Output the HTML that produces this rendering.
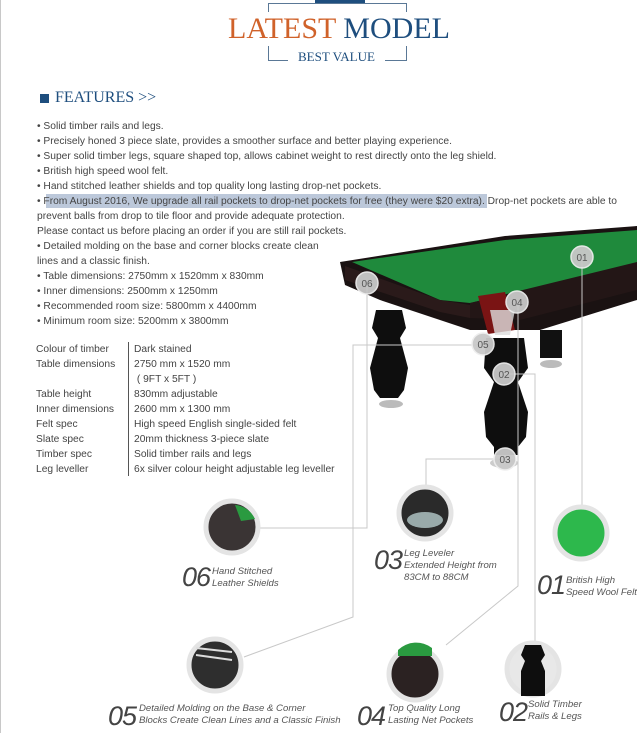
<!DOCTYPE html>
<html><head><meta charset="utf-8"><style>
*{margin:0;padding:0}
body{width:637px;height:733px;position:relative;background:#fff;overflow:hidden;font-family:"Liberation Sans",sans-serif;}
.a{position:absolute;white-space:nowrap}
.t{font-size:10.25px;color:#444;line-height:15px}
.serif{font-family:"Liberation Serif",serif}
.big{font-family:"Liberation Sans",sans-serif;font-style:italic;font-size:27px;color:#444;font-weight:300;letter-spacing:-1px}
.sm{font-style:italic;font-size:9.6px;color:#555;line-height:12px}
</style></head><body>
<div class="a" style="left:0;top:0;width:1px;height:733px;background:#c8c8c8"></div>
<!-- header box -->
<div class="a" style="left:268px;top:3px;width:137px;height:57px;border:1px solid #5a7896;border-bottom:none"></div>
<div class="a" style="left:268px;top:60px;width:139px;height:1px;background:#5a7896"></div>
<div class="a" style="left:315px;top:0;width:50px;height:3px;background:#1e4e7e"></div>
<div class="a serif" style="left:226px;top:12px;background:#fff;font-size:30px;line-height:34px;padding:0 2px"><span style="color:#d0622a">LATEST</span> <span style="color:#1e4e7e">MODEL</span></div>
<div class="a serif" style="left:288px;top:49px;background:#fff;font-size:13px;color:#1e4e7e;padding:0 10px;line-height:16px">BEST VALUE</div>
<!-- features -->
<div class="a" style="left:40px;top:94px;width:9px;height:9px;background:#1e4e7e"></div>
<div class="a serif" style="left:55px;top:89px;font-size:16px;color:#1e4e7e">FEATURES &gt;&gt;</div>
<div class="a" style="left:46px;top:194px;width:441px;height:14px;background:#bcc8da"></div>
<div class="a t" style="left:37px;top:119px">
• Solid timber rails and legs.<br>
• Precisely honed 3 piece slate, provides a smoother surface and better playing experience.<br>
• Super solid timber legs, square shaped top, allows cabinet weight to rest directly onto the leg shield.<br>
• British high speed wool felt.<br>
• Hand stitched leather shields and top quality long lasting drop-net pockets.<br>
• From August 2016, We upgrade all rail pockets to drop-net pockets for free (they were $20 extra). Drop-net pockets are able to<br>
prevent balls from drop to tile floor and provide adequate protection.<br>
Please contact us before placing an order if you are still rail pockets.<br>
• Detailed molding on the base and corner blocks create clean<br>
lines and a classic finish.<br>
• Table dimensions: 2750mm x 1520mm x 830mm<br>
• Inner dimensions: 2500mm x 1250mm<br>
• Recommended room size: 5800mm x 4400mm<br>
• Minimum room size: 5200mm x 3800mm
</div>
<div class="a" style="left:128px;top:342px;width:1px;height:134px;background:#555"></div>
<div class="a t" style="left:36px;top:342px">Colour of timber<br>Table dimensions<br><br>Table height<br>Inner dimensions<br>Felt spec<br>Slate spec<br>Timber spec<br>Leg leveller</div>
<div class="a t" style="left:134px;top:342px">Dark stained<br>2750 mm x 1520 mm<br>&nbsp;( 9FT x 5FT )<br>830mm adjustable<br>2600 mm x 1300 mm<br>High speed English single-sided felt<br>20mm thickness 3-piece slate<br>Solid timber rails and legs<br>6x silver colour height adjustable leg leveller</div>

<svg class="a" style="left:0;top:0" width="637" height="733">
<!-- table body -->
<polygon points="340,262 505,236 637,226 637,300 540,330 470,330 380,300 345,285" fill="#1a1212"/>
<polygon points="352,262 505,240 637,230 637,265 470,303 440,300" fill="#1f8a3c"/>
<polygon points="345,266 440,300 470,305 470,318 440,312 345,280" fill="#2a1a1a"/>
<polygon points="470,303 637,262 637,290 520,320 470,318" fill="#231616"/>
<polygon points="478,296 505,292 515,330 488,334" fill="#7a1414"/>
<path d="M490,310 L515,310 L510,335 L495,335 Z" fill="#ddd" opacity=".8"/>
<!-- legs -->
<path d="M376,310 h26 l4,18 -6,10 8,30 -4,22 -6,8 h-18 l-6,-8 -4,-22 8,-30 -6,-10 z" fill="#0e0e0e"/>
<ellipse cx="391" cy="404" rx="12" ry="4" fill="#bbb"/>
<path d="M486,338 h38 l4,30 -10,14 10,30 -2,25 -8,10 v8 h-24 v-8 l-8,-10 -2,-25 10,-30 -10,-14 z" fill="#0e0e0e"/>
<ellipse cx="504" cy="463" rx="14" ry="5" fill="#ccc"/>
<path d="M540,330 h22 v28 h-22 z" fill="#111"/>
<ellipse cx="551" cy="364" rx="11" ry="4" fill="#bbb"/>
<!-- connectors -->
<g stroke="#c8c8c8" stroke-width="1" fill="none">
<path d="M582,257 V505"/>
<path d="M367,283 V528 H258"/>
<path d="M483,345 H353 V617 L244,657"/>
<path d="M504,374 H535 V641"/>
<path d="M518,302 V586 L446,645"/>
<path d="M505,459 H426 V485"/>
</g>
<!-- markers -->
<g fill="#c9c9c9" stroke="#eee" stroke-width="1.5" opacity=".95">
<circle cx="582" cy="257" r="11"/><circle cx="367" cy="283" r="11"/><circle cx="517" cy="302" r="11"/>
<circle cx="483" cy="344" r="11"/><circle cx="504" cy="374" r="11"/><circle cx="505" cy="459" r="11"/>
</g>
<g font-family="Liberation Sans" font-size="10" fill="#555" text-anchor="middle">
<text x="582" y="261">01</text><text x="367" y="287">06</text><text x="517" y="306">04</text>
<text x="483" y="348">05</text><text x="504" y="378">02</text><text x="505" y="463">03</text>
</g>
<!-- detail circles -->
<g stroke="#e4e4e4" stroke-width="5">
<circle cx="232" cy="527" r="26" fill="#3a3434"/>
<circle cx="425" cy="513" r="26" fill="#2a2a2a"/>
<circle cx="581" cy="533" r="26" fill="#2db84c"/>
<circle cx="215" cy="665" r="26" fill="#2e2e2e"/>
<circle cx="415" cy="674" r="26" fill="#2b2222"/>
<circle cx="533" cy="669" r="26" fill="#e8e8e8"/>
</g>
<path d="M235,505 a24,24 0 0 1 20,14 l-14,2 z" fill="#2a9a40"/>
<ellipse cx="425" cy="520" rx="18" ry="8" fill="#9aa"/>
<path d="M398,650 a26,26 0 0 1 34,-2 v8 h-34 z" fill="#2a9a40"/>
<path d="M525,645 h16 l4,10 -4,6 4,10 v25 h-24 v-25 l4,-10 -4,-6 z" fill="#0e0e0e"/>
<g stroke="#ddd" stroke-width="2"><line x1="196" y1="655" x2="232" y2="660"/><line x1="196" y1="648" x2="232" y2="652"/></g>
</svg>

<div class="a big" style="left:182px;top:562px">06</div>
<div class="a sm" style="left:212px;top:566px">Hand Stitched<br>Leather Shields</div>
<div class="a big" style="left:374px;top:545px">03</div>
<div class="a sm" style="left:404px;top:548px">Leg Leveler<br>Extended Height from<br>83CM to 88CM</div>
<div class="a big" style="left:537px;top:570px">01</div>
<div class="a sm" style="left:566px;top:575px">British High<br>Speed Wool Felt</div>
<div class="a big" style="left:108px;top:701px">05</div>
<div class="a sm" style="left:139px;top:703px">Detailed Molding on the Base &amp; Corner<br>Blocks Create Clean Lines and a Classic Finish</div>
<div class="a big" style="left:357px;top:701px">04</div>
<div class="a sm" style="left:388px;top:703px">Top Quality Long<br>Lasting Net Pockets</div>
<div class="a big" style="left:499px;top:697px">02</div>
<div class="a sm" style="left:528px;top:699px">Solid Timber<br>Rails &amp; Legs</div>
</body></html>
